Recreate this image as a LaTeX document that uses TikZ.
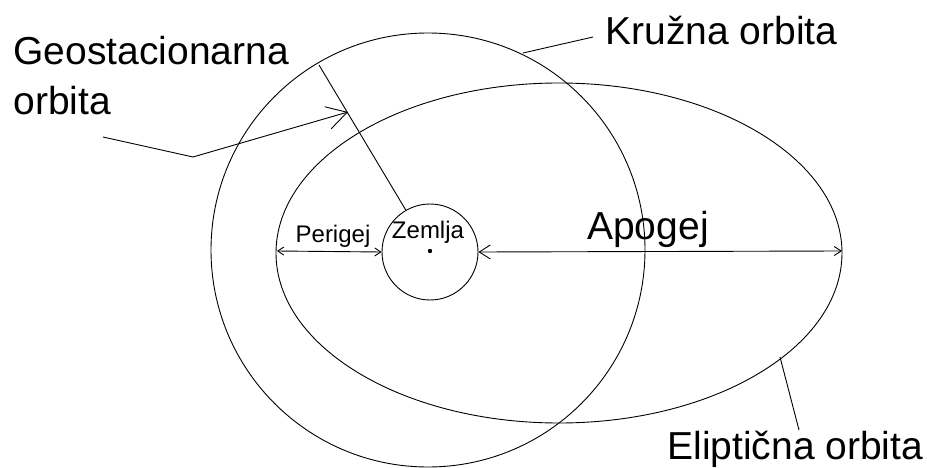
\documentclass[tikz,border=0pt]{standalone}
\usepackage{fontspec}
\setmainfont{Liberation Sans}
\usetikzlibrary{arrows.meta}
\begin{document}
\begin{tikzpicture}[x=1pt,y=-1pt,line width=0.9pt,
  big/.style={font=\fontsize{39}{50}\selectfont,inner sep=0pt,anchor=base west},
  small/.style={font=\fontsize{24}{28}\selectfont,inner sep=0pt,anchor=base},
  line/.style={draw=black},
]
\useasboundingbox (0,0) rectangle (927,468);
% orbits
\draw[line] (428,250) circle [radius=217pt];
\draw[line] (559,253) ellipse [x radius=283pt, y radius=170pt];
% Earth
\node[circle,draw,line width=0.9pt,minimum size=96pt,inner sep=0pt] (earth) at (430,252) {};
\fill (430,251) circle [radius=2.2pt];
\node[small] (zemlja) at (428,238) {Zemlja};
% coordinates
\coordinate (geo) at (319,65);
\coordinate (pl) at (277,251);
\coordinate (ar) at (842,251);
\coordinate (k1) at (523,53);
\coordinate (k2) at (593,37);
\coordinate (g1) at (103,137);
\coordinate (g2) at (193,157);
\coordinate (g3) at (348,112);
\coordinate (e1) at (780,357);
\coordinate (e2) at (799,430);
% radius line
\draw[line] (geo) -- (earth.120);
% perigee / apogee
\draw[line,{Straight Barb[length=6pt,width=8pt]}-{Straight Barb[length=6pt,width=8pt]}] (pl) -- (earth.west);
\draw[line,{Straight Barb[length=11pt,width=14pt]}-{Straight Barb[length=7pt,width=9pt]}] (earth.east) -- (ar);
\node[small] (perigej) at (333,242) {Perigej};
\node[big,anchor=base] (apogej) at (648,240) {Apogej};
% labels and leaders
\node[big] (kruzna) at (605,45) {Kružna orbita};
\draw[line] (k1) -- (k2);
\node[big] (geost) at (13,65) {Geostacionarna};
\node[big] (geost2) at (13,115) {orbita};
\draw[line,-{Straight Barb[length=20pt,width=23pt]}] (g1) -- (g2) -- (g3);
\node[big] (elip) at (667,459) {Eliptična orbita};
\draw[line] (e1) -- (e2);
\end{tikzpicture}
\end{document}
